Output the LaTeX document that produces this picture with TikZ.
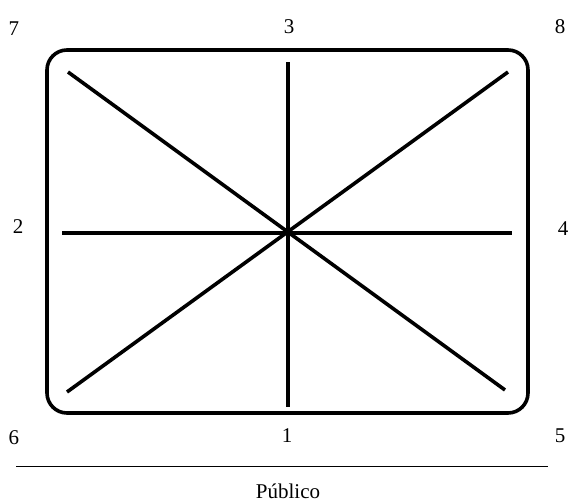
\documentclass[tikz,border=0pt]{standalone}
\usepackage{fontspec}
\setmainfont{Liberation Serif}
\begin{document}
\begin{tikzpicture}[x=1pt,y=-1pt,
  thick line/.style={line width=3.6pt},
  lbl/.style={inner sep=0pt,font=\fontsize{21}{24}\selectfont}]
\useasboundingbox (0,0) rectangle (569,503);
\draw[thick line, rounded corners=20pt] (47,50) rectangle (528,413);
\coordinate (c) at (288,233);
\coordinate (ul) at (68,72);
\coordinate (ur) at (508,72);
\coordinate (ll) at (67,392);
\coordinate (lr) at (505,390);
\coordinate (t) at (288,62);
\coordinate (b) at (288,407);
\coordinate (l) at (62,233);
\coordinate (r) at (512,233);
\draw[thick line] (ul) -- (lr);
\draw[thick line] (ll) -- (ur);
\draw[thick line] (t) -- (b);
\draw[thick line] (l) -- (r);
\node[lbl] (n7) at (14,29) {7};
\node[lbl] (n3) at (289,27) {3};
\node[lbl] (n8) at (560,27) {8};
\node[lbl] (n2) at (18,227) {2};
\node[lbl] (n4) at (563,229) {4};
\node[lbl] (n6) at (14,438) {6};
\node[lbl] (n1) at (287,436) {1};
\node[lbl] (n5) at (560,436) {5};
\coordinate (pl) at (16,466);
\coordinate (pr) at (548,466);
\draw[line width=0.9pt] (pl) -- (pr);
\node[lbl] (pub) at (288,491) {Público};
\end{tikzpicture}
\end{document}
